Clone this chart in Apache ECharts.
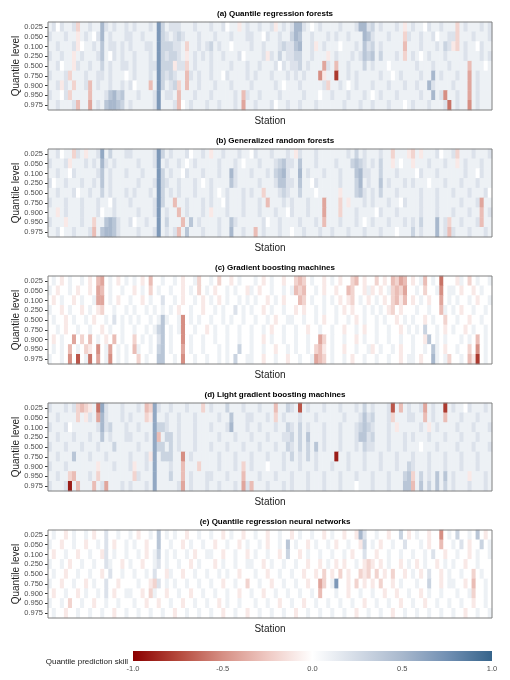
<!DOCTYPE html>
<html>
<head>
<meta charset="utf-8">
<script src="https://cdn.jsdelivr.net/npm/echarts@6/dist/echarts.min.js"></script>
<style>
  html, body { margin: 0; padding: 0; background: #fff; }
  #main { width: 510px; height: 680px; }
</style>
</head>
<body>
<div id="main"></div>
<script>
// quantile levels, top to bottom
var levels = ['0.025', '0.050', '0.100', '0.250', '0.500', '0.750', '0.900', '0.950', '0.975'];

var titles = [
    '(a) Quantile regression forests',
    '(b) Generalized random forests',
    '(c) Gradient boosting machines',
    '(d) Light gradient boosting machines',
    '(e) Quantile regression neural networks'
];

var skillTicks = [-1.0, -0.5, 0.0, 0.5, 1.0];

// one string per quantile level, one char per station
// '.' = 0, '1'..'9' = +0.1..+0.9, 'a'..'j' = -0.1..-1.0
var qrfRows = [
    '12.2112b11 2115212112 1211121731 2221112111 2112.11a12 112112a121 25521.1211 1121112552 31211121a1 211.211211 1b12111212',
    '2111211a12 1.25121112 2112111732 1232111211 1211121112 211.211211 3541121112 1211211154 21112111b2 112112.112 2b11121112',
    '1121112a.1 1214122121 2111221733 3221b11212 31211.1111 2112111232 245112a121 11.1112142 31211111c1 1121112132 ab1211.211',
    '211211a121 11241.2121 1211121732 3321a12121 21121112.1 1112a21312 233112111a 1211121243 41311121b1 21.1211121 1112111212',
    '112.11a211 2113121122 1211122733 3a22b12111 2111121112 1121112.21 22312111d2 1c11211131 2111.11111 1211121112 1111c111.1',
    '21112b1112 112212111. 1211121732 3211c21211 211.211112 1211121112 1212111ea1 1h11212111 11211.1211 1121151211 1211d12111',
    '112a21b112 c121121121 2.111c1731 23b1c11211 1211121111 21111121.1 112111112b 1121.12111 2111211121 1211521111 2111d12111',
    '211.2b1111 c111245341 1121112712 21c1112111 21111121c2 1121111211 1112111.11 2111211121 .121112111 11211512e1 1211d12111',
    '1121112c11 d121455431 2111112711 12c.121112 11211121d1 121112.112 1121112111 1112111211 21112111.1 211121112f 1211e12111'
];

var grfRows = [
    '112.11b21a 1126131112 2111112731 21112.1121 a112111211 .211121112 1a21112111 1111213121 11211b111a b1a1112.11 2b11121112',
    '21112a1112 1215212111 1121112712 1121.12111 11211121.1 1121112342 2141112111 1211134321 21311a1.11 a111211121 1a12111211',
    '11211.2111 1124121112 1112111731 211.211121 1121152111 2111213452 1151211121 1121114522 1131112111 1.21112111 111211.211',
    '2.11211121 1214121111 1121112732 11211121.1 2111142111 1121112442 21411.2111 1121113512 1141211121 2111.11121 1121112111',
    '1121112.11 2113121112 1211121731 2121112111 21.1211121 211b111232 113111.111 11a1113421 2131112111 1121112111 211121112.',
    '2111211121 11211.2111 2111112731 1c11211121 211.211121 1121c11121 21112111d1 11b1a11121 2111211.21 1121112111 1121112d11',
    '11a1211121 112.112111 1121112712 11c1211121 a111211121 112111211. 21112111d1 11b1112111 1.21112111 1121112111 2111211c12',
    '2111a11121 1b11454211 2.11211713 111c141211 1121142111 1112.11211 11211121c1 11211121.1 2111211121 213111512b 1121112c11',
    '112.112111 2c14554211 1121112712 12c1411121 1121151121 1c12111211 .112111211 2111211121 112111.111 312111512c 2111211121'
];

var gbmRows = [
    '.1.a.1..1. a.cd.1.a.1 .1.a.c..1. .1.a..1b.. 1.b..a.1.. .1.a.1..a. .bcb.1..a. 1.a..bc.a. .b.a.cbdc. a.1c.1.f.. .a1.b.1..1',
    '1.a..1.a.. a.dc.1..1. .a.1.b.1.. 1..a.1.b.1 .a..1.1..a 1.a..1..1. 1cbc..1.a. .a..cb..a1 a.a.1bcbd. .1.b..1e.1 1.a..a.1..',
    '.a.1..a.1. .1dd.1.a.. 1..a.1..2. .1.a..1.a. 1.a.1..1.1 .1..a.1.a. ..cb.1..1. 1.a.ab.1.a .1.a.bcac. a.1.a..d.1 .1..1.a..1',
    '1..a.1..a. 1.ab..1..1 .1..1.1.1. 1.a..1..a. .1.1..2.1. 1..a.1..1. .a.a..1.1. .1.a.a..1. 1.1.ab.a.. .1..1..c1. 1.a..1..1.',
    '.1..a.1..1 .a..1.2.1. 1.1..1.141 ..1e.1.1.. 1..1.1..1. .1..1.a..1 1..1..1.a. .1..1.a.1. .1.1..a.1. 1..a.1..b. .1..a..1..',
    '..1.a..1.. 1..a.1..1. .1..1.134. 1.1e..1..a .1..1..1.. 1..1.a..1. .1..a..1.. 1..a..1.a. .1..1..a.1 .1.3..1.a. 1..a.1..1.',
    '.a.1..d.b. c.1.a.c.1. .b.1.1.24. 1..e.1..1. .1..1..1.. 1..a.1..1. .1..1..db. 1..1..a.1. .1..1..1.. 1..a4.1.1. ..1.1.c.1.',
    '.1.1.c.1.b a.e.1d.1.1 .c1..1.34. 1..d.1..1. ..1.1..3.. 1..1..a..1 .1..1.bca. 1..a..1..1 a.1..1.a.. 1..1.41.a. .1..b.e.1.',
    '1..1.e.g.1 f.d.1e.1.1 ..b.1..44. .1.e..1..1 ..1.1.3..1 1..a..1..a ..1..1dcb. 1..1.a..1. .1..1..a.1 1.a..51.1b ..1.cah.1.'
];

var lgbmRows = [
    '2111212bcb a1f6211121 1121cb6211 21112111b1 2111311121 112111c113 21g1211121 1121112131 21112g1c12 112d1211h1 211.211121',
    '1121111b1a 21d5211121 2111ba6112 1121112111 1121141112 211121b121 1121112111 1112111242 31112b1112 211c1211c1 1121112111',
    '21112.1111 1125231112 1121116332 1121112111 2111251112 1121112113 2131211121 1121112343 211121a111 1121a12111 1211121112',
    '1121112111 2114121112 2111216c13 3121112111 1121112111 2111211122 3131411121 1121112442 3111211121 2111211121 1121112111',
    '2111211121 1121113111 1121116331 3121112111 2111211121 1121112113 2131314121 1121112132 2111211121 11.1112111 1211121112',
    '1121114111 2111211111 21112a6133 311e121111 1121112111 2111211121 3121312111 1i11211121 1121112111 2111211121 1121112111',
    '2111211111 11a1112111 2a11216111 211c111b11 11211121b1 2111.11121 1121112111 2111211121 1121112113 2111211121 1121112111',
    '11211bc111 21b1111111 1b21116111 311c121112 21112111c1 1121112111 2111211121 1121112111 2111211134 b131214141 2111a11121',
    '21112i1c11 1c12d11121 2111216111 112d121112 11211121d2 c111211121 2111211121 112111.111 2111211144 c141314131 2111211121'
];

var qrnnRows = [
    '.1..a.1..1 .a..2..1.. 1.a..1.4.1 .1..a..1.. 1..a.1..a. .1..a..1.. a.1..1..a. 1..a..a52. .1..a..3.a .1..a..e.1 .3..1.4.a.',
    '1..a..1..a ..1.2.a..1 .1..a..4.. 1..a.1..1. .a..1..a.1 ..1.a..1.4 .1..a.1..1 .a..1..a3. 1.a..1..2. ..1.a..c.. 1.2.a..3.1',
    '.a..1..a.. 1..a2.1..1 ..1.a.13.1 .1..1.a..1 1..a..1..a .1..1..a.3 ..a.1..1.. 1..1.a..2. .a..1..1.. 1..1.2..a. .1..a.1..1',
    '1..1.a..1. .1..21..a. 1..a..12.1 ..1..a.1.. .a.1..1..1 1..a.1..1. .1..a..a.1 .a.a..1.ab a.a.1..a.1 .a.1..a.1. 1..a..1...',
    '.1..a..1.. 1..a.2..1. .1..1.2..a 1..a..1..1 ..1.1..a.. .1..a..1.. 1..a..a.b. a.b.a..bab .b.a.b..a. 1.a.2..a.1 ..1..b.1..',
    '1..a..1..a .1..2..a.. ..1..ab2.1 .1..1..1.. 1..a..1..b ..1..a..1. .1..a..db. 17..a.b.a. a.b..a.1.. .1..3..a.1 1..a.c..1.',
    '.a..1..a.1 ..1.2.a..1 1..a.b1..a ..1..a..1. .1..1..a.. 1..a..1..1 ..1..1.c.. .1..a..1.. 1..a..a..1 ..a.1..1.. .1..1b..1.',
    '1..1.b..1. .a..1..1.. .1..a..a.. 1..a..1..1 ..a.1..1.. .1..1..a.. 1..a..1..1 ..1..1..a. .1..1..a.. 1..a..1..1 ..1..a..1.',
    '.1..a..1.. 1..1..a..1 ..1..1..1. .a..1..1.. 1..a..1..a ..1..1..1. .a..1..1.. 1..1..a..1 ..1..a..1. .1..1..1.. 1..a..1..1'
];

var panels = [qrfRows, grfRows, gbmRows, lgbmRows, qrnnRows];

// 标尺颜色 darkred - white - steelblue4
var skillColors = ['#8b0000', '#b4483b', '#d68f84', '#efc9c3', '#ffffff', '#d3dbe6', '#a8b8cd', '#7290b3', '#36648b'];

function decode(ch) {
    if (ch >= '0' && ch <= '9') return Number(ch) / 10;
    if (ch >= 'a' && ch <= 'j') return -(ch.charCodeAt(0) - 96) / 10;
    return 0;
}

var myChart = echarts.init(document.getElementById('main'));

var gridLeft = 48, gridWidth = 444, gridHeight = 88;
var tops = [22, 149, 276, 403, 530];
var font = '"Liberation Sans", Arial, sans-serif';

var grids = [], xAxes = [], yAxes = [], series = [], titleList = [];

for (var i = 0; i < panels.length; i++) {
    var rows = panels[i].map(function (s) { return s.replace(/ /g, ''); });
    var n = 0;
    rows.forEach(function (s) { n = Math.max(n, s.length); });
    var stations = [];
    for (var k = 0; k < n; k++) stations.push(k + 1);

    var data = [];
    for (var r = 0; r < rows.length; r++) {
        for (var c = 0; c < rows[r].length; c++) {
            data.push([c, r, decode(rows[r][c])]);
        }
    }

    grids.push({
        left: gridLeft, top: tops[i], width: gridWidth, height: gridHeight,
        show: true, borderColor: '#808080', borderWidth: 1,
        backgroundColor: 'transparent', z: 5
    });
    xAxes.push({
        type: 'category', gridIndex: i, data: stations,
        axisLine: { show: false }, axisTick: { show: false }, axisLabel: { show: false },
        splitLine: { show: false },
        name: 'Station', nameLocation: 'middle', nameGap: 6, nameMoveOverlap: false,
        nameTextStyle: { fontFamily: font, fontSize: 10, color: '#1a1a1a' }
    });
    yAxes.push({
        type: 'category', gridIndex: i, data: levels, inverse: true,
        axisLine: { show: false },
        axisTick: { show: true, interval: 0, alignWithLabel: true, length: 3, lineStyle: { color: '#333' } },
        axisLabel: { interval: 0, fontFamily: font, fontSize: 7.5, color: '#4d4d4d', margin: 5 },
        splitLine: { show: false },
        name: 'Quantile level', nameLocation: 'middle', nameGap: 27, nameMoveOverlap: false,
        nameTextStyle: { fontFamily: font, fontSize: 10, color: '#1a1a1a' }
    });
    series.push({
        type: 'heatmap', xAxisIndex: i, yAxisIndex: i, data: data,
        emphasis: { disabled: true }, progressive: 0
    });
    titleList.push({
        text: titles[i], left: gridLeft + gridWidth / 2, top: tops[i] - 17,
        textAlign: 'center',
        textStyle: { fontFamily: font, fontSize: 8, fontWeight: 'bold', color: '#000' }
    });
}

// 图例色条用的坐标轴
var barLeft = 133, barTop = 651, barWidth = 359, barHeight = 10;
grids.push({ left: barLeft, top: barTop, width: barWidth, height: barHeight, show: false });
xAxes.push({
    type: 'value', gridIndex: 5, min: skillTicks[0], max: skillTicks[skillTicks.length - 1],
    interval: 0.5,
    axisLine: { show: false }, axisTick: { show: false }, splitLine: { show: false },
    axisLabel: {
        fontFamily: font, fontSize: 7.5, color: '#4d4d4d', margin: 4,
        formatter: function (v) { return v.toFixed(1); }
    }
});
yAxes.push({ type: 'value', gridIndex: 5, show: false });

var stops = skillColors.map(function (col, j) {
    return { offset: j / (skillColors.length - 1), color: col };
});

myChart.setOption({
    animation: false,
    title: titleList,
    grid: grids,
    xAxis: xAxes,
    yAxis: yAxes,
    visualMap: {
        type: 'continuous', show: false, min: -1, max: 1,
        seriesIndex: [0, 1, 2, 3, 4],
        inRange: { color: skillColors }
    },
    series: series,
    graphic: [
        {
            type: 'rect', left: barLeft, top: barTop,
            shape: { width: barWidth, height: barHeight },
            style: { fill: new echarts.graphic.LinearGradient(0, 0, 1, 0, stops) }
        },
        {
            type: 'text', right: 510 - 128, top: barTop + 7,
            style: { text: 'Quantile prediction skill', font: '8px ' + font, fill: '#1a1a1a' }
        }
    ]
});
</script>
</body>
</html>
